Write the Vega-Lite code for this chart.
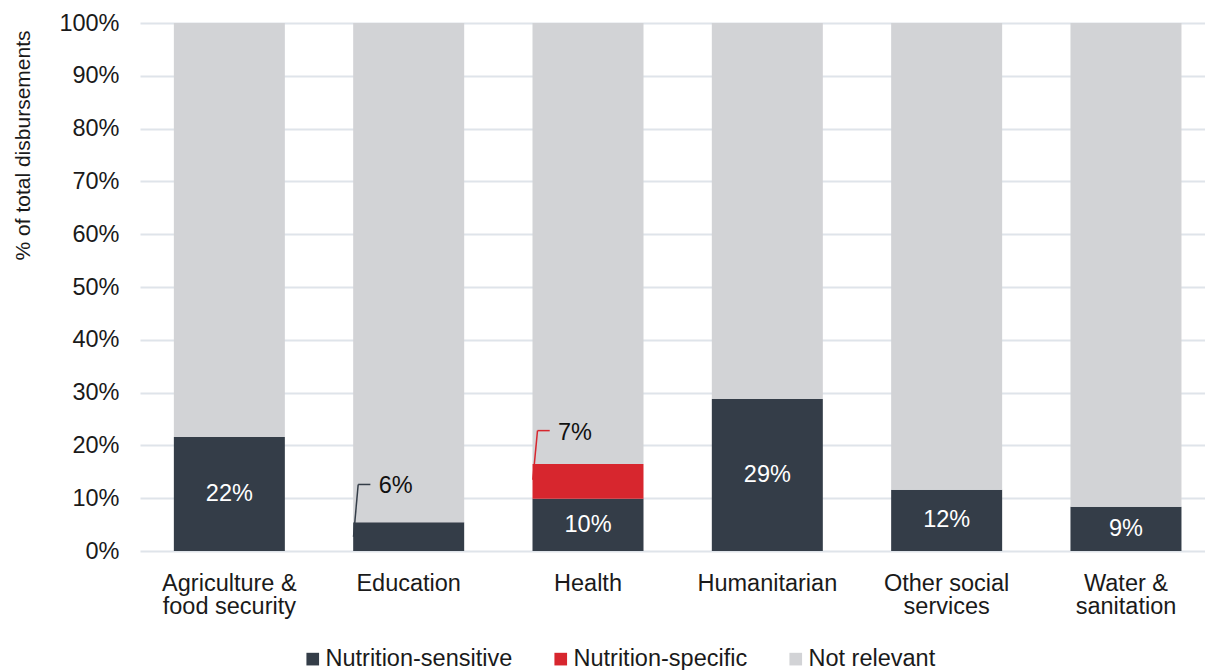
{
  "$schema": "https://vega.github.io/schema/vega-lite/v6.json",
  "width": 1065,
  "height": 528,
  "autosize": {"type": "none"},
  "padding": {"left": 140, "top": 23, "right": 0, "bottom": 119},
  "background": "white",
  "config": {"font": "Liberation Sans", "view": {"stroke": null}},
  "datasets": {
    "bars": [
      {"sector": "Agriculture & food security", "series": "Nutrition-sensitive", "rank": 1, "share": 21.6, "label": "22%"},
      {"sector": "Agriculture & food security", "series": "Nutrition-specific", "rank": 2, "share": 0},
      {"sector": "Agriculture & food security", "series": "Not relevant", "rank": 3, "share": 78.4},
      {"sector": "Education", "series": "Nutrition-sensitive", "rank": 1, "share": 5.45},
      {"sector": "Education", "series": "Nutrition-specific", "rank": 2, "share": 0},
      {"sector": "Education", "series": "Not relevant", "rank": 3, "share": 94.55},
      {"sector": "Health", "series": "Nutrition-sensitive", "rank": 1, "share": 9.9, "label": "10%"},
      {"sector": "Health", "series": "Nutrition-specific", "rank": 2, "share": 6.6},
      {"sector": "Health", "series": "Not relevant", "rank": 3, "share": 83.5},
      {"sector": "Humanitarian", "series": "Nutrition-sensitive", "rank": 1, "share": 28.8, "label": "29%"},
      {"sector": "Humanitarian", "series": "Nutrition-specific", "rank": 2, "share": 0},
      {"sector": "Humanitarian", "series": "Not relevant", "rank": 3, "share": 71.2},
      {"sector": "Other social services", "series": "Nutrition-sensitive", "rank": 1, "share": 11.6, "label": "12%"},
      {"sector": "Other social services", "series": "Nutrition-specific", "rank": 2, "share": 0},
      {"sector": "Other social services", "series": "Not relevant", "rank": 3, "share": 88.4},
      {"sector": "Water & sanitation", "series": "Nutrition-sensitive", "rank": 1, "share": 8.4, "label": "9%"},
      {"sector": "Water & sanitation", "series": "Nutrition-specific", "rank": 2, "share": 0},
      {"sector": "Water & sanitation", "series": "Not relevant", "rank": 3, "share": 91.6}
    ],
    "callouts": [
      {"sector": "Education", "series": "Nutrition-sensitive", "lo": 2.7, "hi": 12.6, "label": "6%"},
      {"sector": "Health", "series": "Nutrition-specific", "lo": 13.5, "hi": 22.8, "label": "7%"}
    ]
  },
  "layer": [
    {
      "data": {"name": "bars"},
      "mark": {"type": "bar"},
      "encoding": {
        "x": {
          "field": "sector", "type": "nominal", "title": null,
          "scale": {"paddingInner": 0.381, "paddingOuter": 0.16, "align": 0.59},
          "axis": {
            "title": null, "domain": false, "ticks": false, "labelAngle": 0,
            "labelPadding": 20, "labelFontSize": 23.5, "labelLineHeight": 23,
            "labelColor": "#1a1a1a", "labelLimit": 300,
            "labelExpr": "datum.label == 'Agriculture & food security' ? ['Agriculture &', 'food security'] : datum.label == 'Other social services' ? ['Other social', 'services'] : datum.label == 'Water & sanitation' ? ['Water &', 'sanitation'] : datum.label"
          }
        },
        "y": {
          "field": "share", "type": "quantitative", "stack": "zero",
          "title": "% of total disbursements",
          "scale": {"domain": [0, 100], "nice": false},
          "axis": {
            "values": [0, 10, 20, 30, 40, 50, 60, 70, 80, 90, 100],
            "labelExpr": "datum.value + '%'",
            "grid": true, "gridColor": "#dfe4ea", "gridWidth": 2,
            "domain": false, "ticks": false,
            "labelPadding": 21, "labelFontSize": 23.5, "labelColor": "#1a1a1a",
            "titleFontSize": 21, "titleFontWeight": "normal",
            "titleColor": "#1a1a1a", "titleAngle": -90, "titleAlign": "right", "titleBaseline": "middle",
            "titleX": -117, "titleY": 7
          }
        },
        "color": {
          "field": "series", "type": "nominal",
          "scale": {"domain": ["Nutrition-sensitive", "Nutrition-specific", "Not relevant"], "range": ["#343d48", "#d7262e", "#d2d3d6"]},
          "legend": {
            "title": null, "orient": "none", "legendX": 161, "legendY": 624, "direction": "horizontal",
            "symbolType": "square", "symbolSize": 160, "symbolStrokeWidth": 0,
            "labelFontSize": 23.5, "labelColor": "#1a1a1a", "labelOffset": 1, "labelLimit": 300,
            "columnPadding": 36
          }
        },
        "order": {"field": "rank", "type": "quantitative"}
      }
    },
    {
      "data": {"name": "bars"},
      "transform": [{"filter": "isValid(datum.label)"}],
      "mark": {"type": "text", "color": "white", "fontSize": 23.5, "baseline": "middle", "align": "center"},
      "encoding": {
        "x": {"field": "sector", "type": "nominal", "title": null},
        "y": {"field": "share", "type": "quantitative", "stack": "zero", "bandPosition": 0.5, "title": "% of total disbursements"},
        "text": {"field": "label"}
      }
    },
    {
      "data": {"name": "callouts"},
      "mark": {"type": "rule", "strokeWidth": 1.5},
      "encoding": {
        "x": {"field": "sector", "type": "nominal", "bandPosition": 0.003, "title": null},
        "x2": {"field": "sector", "bandPosition": 0.045},
        "y": {"field": "lo", "type": "quantitative", "title": "% of total disbursements"},
        "y2": {"field": "hi"},
        "color": {"field": "series", "type": "nominal"}
      }
    },
    {
      "data": {"name": "callouts"},
      "mark": {"type": "rule", "strokeWidth": 1.5},
      "encoding": {
        "x": {"field": "sector", "type": "nominal", "bandPosition": 0.045, "title": null},
        "x2": {"field": "sector", "bandPosition": 0.155},
        "y": {"field": "hi", "type": "quantitative", "stack": null, "title": "% of total disbursements"},
        "color": {"field": "series", "type": "nominal"}
      }
    },
    {
      "data": {"name": "callouts"},
      "mark": {"type": "text", "fontSize": 23.5, "align": "left", "baseline": "middle", "dy": 2, "color": "#111111"},
      "encoding": {
        "x": {"field": "sector", "type": "nominal", "bandPosition": 0.23, "title": null},
        "y": {"field": "hi", "type": "quantitative", "stack": null, "title": "% of total disbursements"},
        "text": {"field": "label"}
      }
    }
  ]
}
